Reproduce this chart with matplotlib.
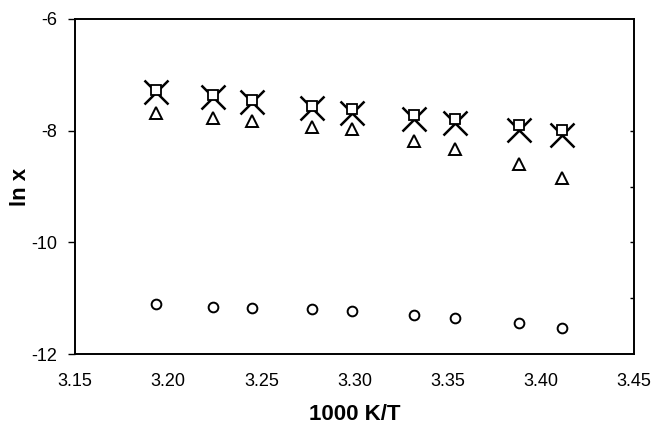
import matplotlib
matplotlib.use('Agg')
import matplotlib.pyplot as plt
from matplotlib.ticker import FixedLocator

plt.rcParams['font.family'] = ['Liberation Sans', 'DejaVu Sans']

# 1000 K / T for each temperature
inv_t = [3.1934, 3.2242, 3.2452, 3.2771, 3.2987, 3.3317, 3.3540, 3.3881, 3.4112]

# ln x for each series
ln_square = [-7.27, -7.37, -7.45, -7.55, -7.62, -7.72, -7.79, -7.90, -7.99]
ln_cross = [-7.31, -7.40, -7.49, -7.59, -7.69, -7.79, -7.87, -7.99, -8.07]
ln_triangle = [-7.69, -7.77, -7.82, -7.93, -7.97, -8.19, -8.32, -8.60, -8.84]
ln_circle = [-11.10, -11.16, -11.17, -11.20, -11.23, -11.31, -11.35, -11.45, -11.53]

x_ticks = [3.15, 3.20, 3.25, 3.30, 3.35, 3.40, 3.45]
y_ticks = [-6, -8, -10, -12]

fig = plt.figure(figsize=(6.54, 4.26), dpi=100)
ax = fig.add_axes([0.1147, 0.169, 0.8547, 0.7864])

ax.plot(inv_t, ln_cross, linestyle='none', marker='x', markersize=17,
        markeredgewidth=1.8, color='black')
ax.plot(inv_t, ln_square, linestyle='none', marker='s', markersize=6.5,
        markerfacecolor='white', markeredgecolor='black', markeredgewidth=1.3)
ax.plot(inv_t, ln_triangle, linestyle='none', marker='^', markersize=9,
        markerfacecolor='none', markeredgecolor='black', markeredgewidth=1.4)
ax.plot(inv_t, ln_circle, linestyle='none', marker='o', markersize=7,
        markerfacecolor='none', markeredgecolor='black', markeredgewidth=1.4)

ax.set_xlim(3.15, 3.45)
ax.set_ylim(-12, -6)
ax.set_xticks(x_ticks)
ax.set_xticklabels(['%.2f' % v for v in x_ticks])
ax.set_yticks(y_ticks)
ax.set_yticklabels([str(v) for v in y_ticks])
ax.tick_params(axis='x', length=0, pad=14, labelsize=13)
ax.tick_params(axis='y', direction='out', length=5, width=1, pad=8, labelsize=13)

# short inward ticks on the right spine
ax2 = ax.twinx()
ax2.set_ylim(-12, -6)
ax2.yaxis.set_major_locator(FixedLocator([-11, -10, -9, -8]))
ax2.tick_params(axis='y', direction='in', length=3, width=1, labelright=False)

for a in (ax, ax2):
    for s in a.spines.values():
        s.set_linewidth(1.2)

ax.set_xlabel('1000 K/T', fontsize=16, fontweight='bold', labelpad=10)
ax.set_ylabel('ln x', fontsize=16, fontweight='bold', labelpad=0)

fig.savefig('out.png', dpi=100)
